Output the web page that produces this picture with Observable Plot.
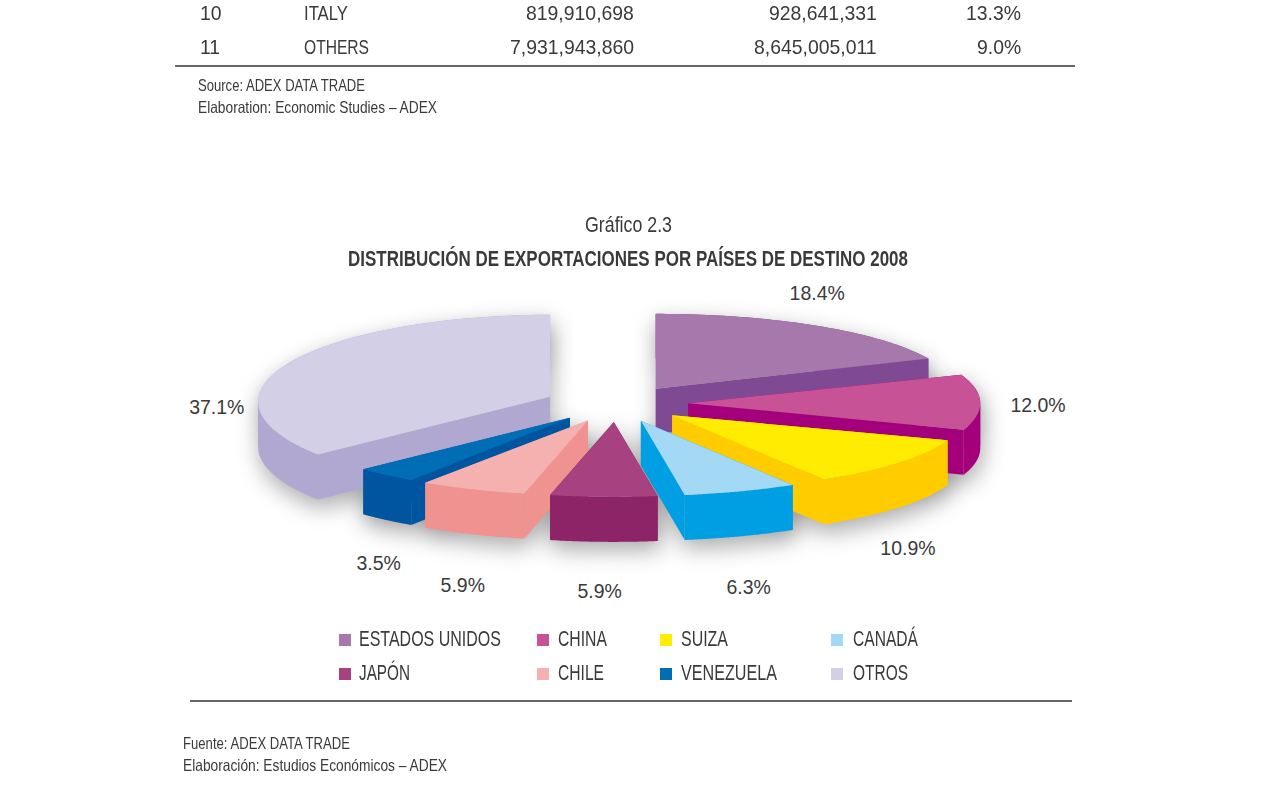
<!DOCTYPE html>
<html lang="es">
<head>
<meta charset="utf-8">
<script src="https://cdn.jsdelivr.net/npm/d3@7"></script>
<script src="https://cdn.jsdelivr.net/npm/@observablehq/plot@0.6"></script>
<style>
  html, body { margin: 0; padding: 0; background: #fff; }
  body { width: 1272px; height: 788px; position: relative; overflow: hidden; color: #3a3a3a;
         font-family: "Liberation Sans", sans-serif; }
  .t { position: absolute; white-space: nowrap; line-height: 1; transform-origin: 0 50%; }
  .rule { position: absolute; height: 1.5px; background: #666; }
  .sw { position: absolute; width: 12px; height: 12px; }
  #chart { position: absolute; left: 0; top: 276px; }
</style>
</head>
<body>
<div id="page"></div>
<div id="chart"></div>
<script>
// Table fragment above the chart
const tableRanks = ["10", "11"];
const tableNames = ["ITALY", "OTHERS"];
const tableCol2 = ["819,910,698", "7,931,943,860"];
const tableCol3 = ["928,641,331", "8,645,005,011"];
const tableCol4 = ["13.3%", "9.0%"];

// Chart data
const countries = ["ESTADOS UNIDOS", "CHINA", "SUIZA", "CANADÁ", "JAPÓN", "CHILE", "VENEZUELA", "OTROS"];
const shares = [18.4, 12.0, 10.9, 6.3, 5.9, 5.9, 3.5, 37.1];
const topColors = ["#a678ac", "#c75295", "#ffec00", "#a3d9f5", "#a8417f", "#f5b0b0", "#006db5", "#d2cfe6"];
const sideColors = ["#7f4a93", "#a5007c", "#ffcc00", "#009fe3", "#8c2467", "#f09290", "#0055a0", "#b0a8d0"];

// Layout of the exploded pie (page pixels)
const svgTop = 276, svgHeight = 330;
const cx = 615.8, cy = 403.4, explodeX = 72, explodeY = 18;
const radiusX = 292, radiusY = 75, depth = 45;
const paintOrder = [0, 7, 1, 2, 3, 6, 5, 4];
const sliceTweaks = {
  0: {rx: 298},
  1: {startWarp: 3, ry: 80},
  6: {rx: 285},
  7: {ry: 87, arcShift: 5, startWarp: 6.2}
};
const labelOffsets = [[2, -32.4], [58, 4.6], [9, 85.6], [8, 96.6], [-4, 94.6], [-10, 95.6], [-3, 88.6], [-65, 40.6]];
const labelSqueeze = 0.95;

const rad = d => d * Math.PI / 180;
let cumulative = 0;
const slices = shares.map((share, i) => {
  const a0 = cumulative * 3.6, a1 = (cumulative + share) * 3.6;
  cumulative += share;
  const mid = (a0 + a1) / 2;
  const apex = [cx + explodeX * Math.sin(rad(mid)), cy - explodeY * Math.cos(rad(mid))];
  const tw = sliceTweaks[i] || {};
  const rx = tw.rx || radiusX, ry = tw.ry || radiusY;
  const start = a0 + (tw.startWarp || 0);
  const rim = d3.range(0, 61).map(k => {
    const a = rad(start + (a1 - start) * k / 60);
    return [apex[0] + rx * Math.sin(a), apex[1] + (tw.arcShift || 0) - ry * Math.cos(a)];
  });
  return {i, apex, rim, mid, rx, ry};
});

const down = p => [p[0], p[1] + depth];
const faces = [];
const addFace = (key, color, pts) => pts.forEach(p => faces.push({key, color, x: p[0], y: p[1]}));
paintOrder.forEach(i => {
  const {apex, rim} = slices[i];
  const first = rim[0], last = rim[rim.length - 1];
  addFace(`${i}-a`, sideColors[i], [apex, first, down(first), down(apex)]);
  addFace(`${i}-b`, sideColors[i], [apex, last, down(last), down(apex)]);
  // the rim wall is split where the ellipse turns, so that no part of it cancels another when filled
  const xs = rim.map(p => p[0]);
  const cuts = [...new Set([0, d3.minIndex(xs), d3.maxIndex(xs), rim.length - 1])].sort((a, b) => a - b);
  cuts.slice(1).forEach((end, n) => {
    const part = rim.slice(cuts[n], end + 1);
    addFace(`${i}-c${n}`, sideColors[i], [...part, ...part.slice().reverse().map(down)]);
  });
  addFace(`${i}-t`, topColors[i], [apex, ...rim]);
});

const labels = slices.map((s, i) => {
  const m = rad(s.mid);
  return {
    text: shares[i].toFixed(1) + "%",
    x: s.apex[0] + radiusX * Math.sin(m) + labelOffsets[i][0],
    y: s.apex[1] - radiusY * Math.cos(m) + labelOffsets[i][1]
  };
});

const plot = Plot.plot({
  width: 1272,
  height: svgHeight,
  margin: 0,
  x: {domain: [0, 1272], range: [0, 1272], axis: null},
  y: {domain: [svgTop, svgTop + svgHeight], range: [0, svgHeight], axis: null},
  color: {type: "identity"},
  style: {background: "transparent", overflow: "visible"},
  marks: [
    Plot.line(faces, {x: "x", y: "y", z: "key", fill: "#8a8a8a", stroke: "none", dx: 2, dy: 9, fillOpacity: 0.7, imageFilter: "blur(11px)"}),
    Plot.line(faces, {x: "x", y: "y", z: "key", fill: "color", stroke: "none"}),
    Plot.text(labels, {x: "x", y: "y", text: "text", fontSize: 20.5, fill: "#3a3a3a", fontFamily: "Liberation Sans, sans-serif", textAnchor: "middle"})
  ]
});
document.getElementById("chart").append(plot);
plot.querySelectorAll("text").forEach(t => {
  t.setAttribute("textLength", t.getComputedTextLength() * labelSqueeze);
  t.setAttribute("lengthAdjust", "spacingAndGlyphs");
});

// Text outside the SVG: the reference face is condensed, so each string is squeezed to its width
const page = document.getElementById("page");
const put = ({text, x, top, size, width, scale, anchor = "left", bold = false}) => {
  const d = document.createElement("div");
  d.className = "t";
  d.textContent = text;
  Object.assign(d.style, {top: top + "px", fontSize: size + "px", left: "0px", fontWeight: bold ? "bold" : "normal"});
  page.append(d);
  const natural = d.getBoundingClientRect().width;
  const w = width || natural * scale;
  const left = anchor === "left" ? x : anchor === "right" ? x - w : x - w / 2;
  d.style.left = left + "px";
  d.style.transform = `scaleX(${w / natural})`;
};
const rule = (l, w, top) => {
  const d = document.createElement("div");
  d.className = "rule";
  Object.assign(d.style, {left: l + "px", width: w + "px", top: top + "px"});
  page.append(d);
};

const rowTops = [2, 36];
const numScale = 0.924;
const nameWidths = [44, 65];
tableRanks.forEach((r, i) => {
  const top = rowTops[i], size = 21;
  put({text: r, x: 200, top, size, scale: numScale});
  put({text: tableNames[i], x: 304, top, size, width: nameWidths[i]});
  put({text: tableCol2[i], x: 634, top, size, scale: numScale, anchor: "right"});
  put({text: tableCol3[i], x: 877, top, size, scale: numScale, anchor: "right"});
  put({text: tableCol4[i], x: 1021, top, size, scale: numScale, anchor: "right"});
});
rule(175, 900, 65);
rule(190, 882, 700);
put({text: "Source: ADEX DATA TRADE", x: 198, top: 77, size: 16.5, width: 167});
put({text: "Elaboration: Economic Studies – ADEX", x: 198, top: 99, size: 16.5, width: 239});
put({text: "Gráfico 2.3", x: 628, top: 215, size: 21.5, width: 87, anchor: "middle"});
put({text: "DISTRIBUCIÓN DE EXPORTACIONES POR PAÍSES DE DESTINO 2008", x: 628, top: 249, size: 21.5, width: 560, anchor: "middle", bold: true});
put({text: "Fuente: ADEX DATA TRADE", x: 183, top: 735, size: 16.5, width: 167});
put({text: "Elaboración: Estudios Económicos – ADEX", x: 183, top: 757, size: 16.5, width: 264});

const legendSw = [339, 537, 660, 831];
const legendTx = [359, 558, 681, 853];
const legendRows = [629, 663];
const legendWidths = [142, 49, 47, 65, 51, 46, 96, 55];
countries.forEach((name, k) => {
  const col = k % 4, row = Math.floor(k / 4);
  const s = document.createElement("div");
  s.className = "sw";
  Object.assign(s.style, {left: legendSw[col] + "px", top: (legendRows[row] + 5) + "px", background: topColors[k]});
  page.append(s);
  put({text: name, x: legendTx[col], top: legendRows[row], size: 21.5, width: legendWidths[k]});
});
</script>
</body>
</html>
